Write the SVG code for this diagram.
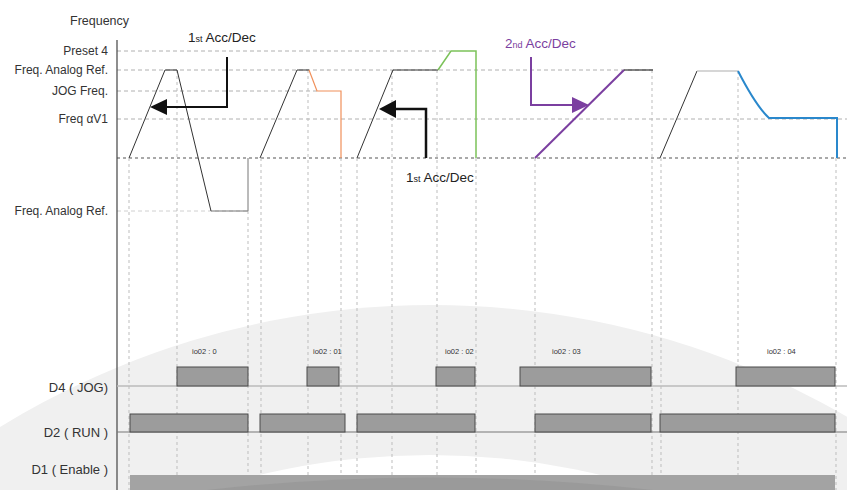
<svg xmlns="http://www.w3.org/2000/svg" width="847" height="490" viewBox="0 0 847 490">
<defs>
<style>
.lbl{font-family:"Liberation Sans",Arial,sans-serif;font-size:12px;fill:#333;text-anchor:end}
.io{font-family:"Liberation Sans",Arial,sans-serif;font-size:7.5px;fill:#333}
.lvl{stroke:#b0b0b0;stroke-width:1;stroke-dasharray:4 3;fill:none}
.vd{stroke:#bdbdbd;stroke-width:1;stroke-dasharray:3 3;fill:none}
.w{fill:none;stroke:#333;stroke-width:1}
.p{fill:#9c9c9c;stroke:#4a4a4a;stroke-width:1}
</style>
<clipPath id="barclip"><rect x="130" y="475" width="705" height="15"/></clipPath>
</defs>
<rect width="847" height="490" fill="#fff"/>
<g id="background">
<circle cx="432" cy="1131" r="826" fill="#f0f0f0"/>
<circle cx="430" cy="1195" r="740" fill="#fff"/>
</g>
<g id="grid">
<line class="lvl" x1="117" y1="51" x2="451" y2="51"/>
<line class="lvl" x1="117" y1="70" x2="653" y2="70" stroke="#999"/>
<line class="lvl" x1="117" y1="91" x2="317" y2="91"/>
<line class="lvl" x1="117" y1="119" x2="847" y2="119"/>
<line class="lvl" x1="117" y1="211" x2="248" y2="211" style="stroke:#d0d0d0"/>
<line x1="117" y1="158" x2="847" y2="158" stroke="#555" stroke-width="1.2" stroke-dasharray="3 3"/>
<line class="vd" x1="129" y1="158" x2="129" y2="490"/>
<line class="vd" x1="177" y1="70" x2="177" y2="490"/>
<line class="vd" x1="248" y1="211" x2="248" y2="490"/>
<line class="vd" x1="261" y1="158" x2="261" y2="490"/>
<line class="vd" x1="308" y1="70" x2="308" y2="490"/>
<line class="vd" x1="341" y1="158" x2="341" y2="490"/>
<line class="vd" x1="357" y1="158" x2="357" y2="490"/>
<line class="vd" x1="392" y1="70" x2="392" y2="490"/>
<line class="vd" x1="437" y1="70" x2="437" y2="490"/>
<line class="vd" x1="476" y1="158" x2="476" y2="490"/>
<line class="vd" x1="535" y1="158" x2="535" y2="490"/>
<line class="vd" x1="652" y1="70" x2="652" y2="490"/>
<line class="vd" x1="661" y1="158" x2="661" y2="490"/>
<line class="vd" x1="738" y1="71" x2="738" y2="490"/>
<line class="vd" x1="836" y1="158" x2="836" y2="490"/>
<line x1="117" y1="40" x2="117" y2="490" stroke="#444" stroke-width="1.2"/>
<line x1="117" y1="386" x2="847" y2="386" stroke="#bbb" stroke-width="1.5"/>
<line x1="117" y1="432" x2="847" y2="432" stroke="#777" stroke-width="1.2"/>
</g>
<g id="labels">
<text x="70" y="25" style="font-family:'Liberation Sans',Arial,sans-serif;font-size:12.5px;fill:#333">Frequency</text>
<text class="lbl" x="108" y="55">Preset 4</text>
<text class="lbl" x="108" y="74">Freq. Analog Ref.</text>
<text class="lbl" x="108" y="95">JOG Freq.</text>
<text class="lbl" x="108" y="123">Freq αV1</text>
<text class="lbl" x="108" y="215">Freq. Analog Ref.</text>
<text class="lbl" x="108" y="392" style="font-size:13px">D4 ( JOG)</text>
<text class="lbl" x="108" y="437" style="font-size:13px">D2 ( RUN )</text>
<text class="lbl" x="108" y="474" style="font-size:13px">D1 ( Enable )</text>
</g>
<g id="wave1">
<polyline class="w" points="129,158 165,70 177,70 211,211"/>
<polyline points="211,211 248,211 248,158" fill="none" stroke="#777" stroke-width="1"/>
</g>
<g id="wave2">
<polyline class="w" points="260,158 297,70 309,70"/>
<polyline points="309,70 317,91 341,91 341,158" fill="none" stroke="#f0905a" stroke-width="1.2"/>
</g>
<g id="wave3">
<polyline class="w" points="357,158 393,70 438,70"/>
<polyline points="438,70 451,51 476,51 476,158" fill="none" stroke="#7cc25a" stroke-width="1.5"/>
</g>
<g id="wave4">
<line x1="535" y1="158" x2="624" y2="70" stroke="#7b3fa0" stroke-width="2"/>
<line x1="624" y1="70" x2="653" y2="70" stroke="#333" stroke-width="1.2"/>
</g>
<g id="wave5">
<polyline class="w" points="660,158 697,71"/>
<line x1="697" y1="71" x2="738" y2="71" stroke="#c8c8c8" stroke-width="1.5"/>
<path d="M738,71 Q756,106 769,118 L837,118 L837,158" fill="none" stroke="#2a88cc" stroke-width="2"/>
</g>
<g id="connectors">
<polyline points="227,57 227,107 166,107" fill="none" stroke="#111" stroke-width="2"/>
<polygon points="150,107 167,99 167,115" fill="#111"/>
<polyline points="426,158 426,109 394,109" fill="none" stroke="#111" stroke-width="2.5"/>
<polygon points="379,109 396,100 396,118" fill="#111"/>
<polyline points="531,57 531,105 574,105" fill="none" stroke="#7b3fa0" stroke-width="2"/>
<polygon points="589,105 572,97 572,113" fill="#7b3fa0"/>
</g>
<g id="acc-labels" style="font-family:'Liberation Sans',Arial,sans-serif;font-size:13.5px">
<text x="188" y="42" fill="#222">1<tspan font-size="9">st</tspan> Acc/Dec</text>
<text x="406" y="182" fill="#222">1<tspan font-size="9">st</tspan> Acc/Dec</text>
<text x="505" y="48" fill="#7b3fa0">2<tspan font-size="9">nd</tspan> Acc/Dec</text>
</g>
<g id="io-labels">
<text class="io" x="192" y="354">io02 : 0</text>
<text class="io" x="313" y="354">io02 : 01</text>
<text class="io" x="445" y="354">io02 : 02</text>
<text class="io" x="552" y="354">io02 : 03</text>
<text class="io" x="767" y="354">io02 : 04</text>
</g>
<g id="d4-jog">
<rect class="p" x="177" y="367" width="71" height="19"/>
<rect class="p" x="307" y="367" width="32" height="19"/>
<rect class="p" x="436" y="367" width="39" height="19"/>
<rect class="p" x="520" y="367" width="131" height="19"/>
<rect class="p" x="736" y="367" width="99" height="19"/>
</g>
<g id="d2-run">
<rect class="p" x="130" y="414" width="118" height="18"/>
<rect class="p" x="260" y="414" width="85" height="18"/>
<rect class="p" x="357" y="414" width="118" height="18"/>
<rect class="p" x="535" y="414" width="116" height="18"/>
<rect class="p" x="660" y="414" width="175" height="18"/>
</g>
<g id="d1-enable">
<rect x="130" y="475" width="705" height="15" fill="#a3a3a3"/>
<path d="M207,490 Q430,465 653,490 Z" fill="#9a9a9a" clip-path="url(#barclip)"/>
</g>
</svg>
